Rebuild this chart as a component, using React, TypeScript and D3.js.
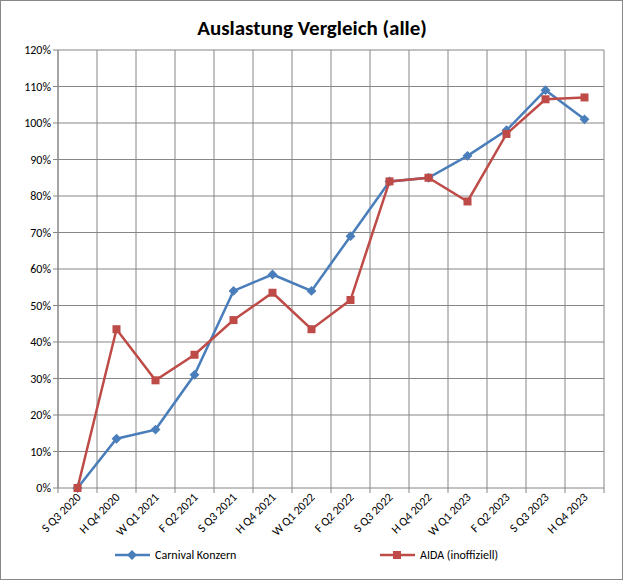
import * as d3 from "d3";

const categories = [
  "S Q3 2020", "H Q4 2020", "W Q1 2021", "F Q2 2021", "S Q3 2021", "H Q4 2021", "W Q1 2022",
  "F Q2 2022", "S Q3 2022", "H Q4 2022", "W Q1 2023", "F Q2 2023", "S Q3 2023", "H Q4 2023",
];
const carnival = [0, 13.5, 16, 31, 54, 58.5, 54, 69, 84, 85, 91, 98, 109, 101];
const aida = [0, 43.5, 29.5, 36.5, 46, 53.5, 43.5, 51.5, 84, 85, 78.5, 97, 106.5, 107];
const yTicks = d3.range(0, 121, 10);

const W = 624, H = 581;
const left = 58, right = 604, top = 50, bottom = 488;

export default function App() {
  const x = d3.scaleBand<string>().domain(categories).range([left, right]);
  const y = d3.scaleLinear().domain([0, 120]).range([bottom, top]);
  const cx = (c: string) => (x(c) ?? 0) + x.bandwidth() / 2;
  const line = d3.line<number>().x((_, i) => cx(categories[i])).y((d) => y(d));
  const font = "Calibri, Carlito, 'Liberation Sans', Arial, sans-serif";
  const blue = "#4A7EBB", red = "#BE4B48";

  return (
    <svg width={W} height={H} style={{ position: "absolute", left: 0, top: 0 }} fontFamily={font}>
      <rect x={0.5} y={0.5} width={W - 2} height={H - 2} fill="#fff" stroke="#888" />
      <text x={312} y={35} textAnchor="middle" fontSize={21} fontWeight="bold">Auslastung Vergleich (alle)</text>
      {yTicks.map((t) => (
        <g key={t}>
          <line x1={left} x2={right} y1={y(t)} y2={y(t)} stroke="#868686" />
          <line x1={left - 5} x2={left} y1={y(t)} y2={y(t)} stroke="#868686" />
          <text x={left - 7} y={y(t) + 4} textAnchor="end" fontSize={12}>{t}%</text>
        </g>
      ))}
      {categories.map((c, i) => (
        <line key={c} x1={left + i * x.bandwidth()} x2={left + i * x.bandwidth()} y1={top} y2={bottom + 5} stroke="#868686" />
      ))}
      <line x1={right} x2={right} y1={top} y2={bottom + 5} stroke="#868686" />
      <line x1={left} x2={left} y1={top} y2={bottom} stroke="#868686" />
      {categories.map((c) => (
        <text key={c} transform={`translate(${cx(c) + 4},${bottom + 10}) rotate(-45)`} textAnchor="end" fontSize={12}>{c}</text>
      ))}
      <path d={line(carnival) ?? ""} fill="none" stroke={blue} strokeWidth={2.5} />
      {carnival.map((v, i) => (
        <rect key={i} x={-3.5} y={-3.5} width={7} height={7} fill={blue}
          transform={`translate(${cx(categories[i])},${y(v)}) rotate(45)`} />
      ))}
      <path d={line(aida) ?? ""} fill="none" stroke={red} strokeWidth={2.5} />
      {aida.map((v, i) => (
        <rect key={i} x={cx(categories[i]) - 4} y={y(v) - 4} width={8} height={8} fill={red} />
      ))}
      <line x1={115} x2={150} y1={555} y2={555} stroke={blue} strokeWidth={2.5} />
      <rect x={-3.5} y={-3.5} width={7} height={7} fill={blue} transform="translate(132,555) rotate(45)" />
      <text x={155} y={559} fontSize={12}>Carnival Konzern</text>
      <line x1={380} x2={415} y1={555} y2={555} stroke={red} strokeWidth={2.5} />
      <rect x={393} y={551} width={8} height={8} fill={red} />
      <text x={420} y={559} fontSize={12}>AIDA (inoffiziell)</text>
    </svg>
  );
}
